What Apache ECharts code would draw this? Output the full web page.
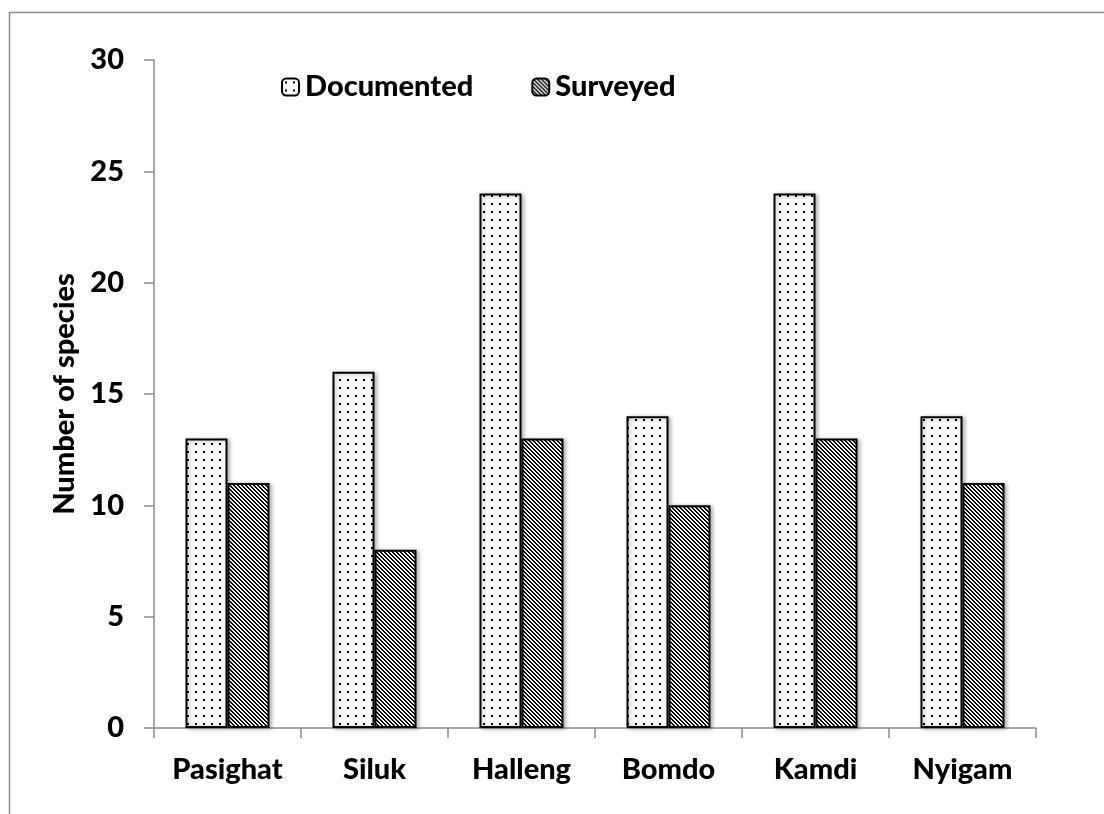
<!DOCTYPE html>
<html>
<head>
<meta charset="utf-8">
<script src="https://cdn.jsdelivr.net/npm/echarts@6/dist/echarts.min.js"></script>
<style>
  html, body { margin: 0; padding: 0; background: #fff; }
  #chart { width: 1104px; height: 814px; }
</style>
</head>
<body>
<div id="chart"></div>
<script>
// Species counts per site
const sites = ['Pasighat', 'Siluk', 'Halleng', 'Bomdo', 'Kamdi', 'Nyigam'];
const documented = [13, 16, 24, 14, 24, 14];
const surveyed = [11, 8, 13, 10, 13, 11];
const yTicks = { min: 0, max: 30, interval: 5 };

const FONT = 'Lato';
const WEIGHT = 900;
const SIZE = 29;
const AXIS_GREY = '#8c8c8c';

// Dotted fill: small black square on an 8px grid
function dotPattern() {
  const c = document.createElement('canvas');
  c.width = 8; c.height = 8;
  const g = c.getContext('2d');
  g.fillStyle = '#fff';
  g.fillRect(0, 0, 8, 8);
  g.fillStyle = '#000';
  g.fillRect(3, 3, 2, 2);
  return c;
}

// Dense downward diagonal hatch (2px on, 2px off)
function hatchPattern() {
  const c = document.createElement('canvas');
  c.width = 4; c.height = 4;
  const g = c.getContext('2d');
  g.fillStyle = '#fff';
  g.fillRect(0, 0, 4, 4);
  g.fillStyle = '#000';
  for (let i = 0; i < 4; i++) {
    g.fillRect(i, i, 1, 1);
    g.fillRect((i + 1) % 4, i, 1, 1);
  }
  return c;
}

const chart = echarts.init(document.getElementById('chart'), null, { renderer: 'canvas' });

const barStyle = (img) => ({
  color: { image: img, repeat: 'repeat' },
  borderColor: '#000',
  borderWidth: 2,
  shadowColor: 'rgba(0,0,0,0.3)',
  shadowBlur: 4,
  shadowOffsetX: 2,
  shadowOffsetY: 1
});

const labelText = { color: '#000', fontFamily: FONT, fontWeight: WEIGHT, fontSize: SIZE };

chart.setOption({
  animation: false,
  backgroundColor: '#fff',
  textStyle: { fontFamily: FONT },
  graphic: [{
    type: 'polyline',
    shape: { points: [[9.5, 814], [9.5, 12.5], [1104, 12.5]] },
    style: { stroke: AXIS_GREY, lineWidth: 1.5, fill: null }
  }],
  legend: {
    left: 276,
    top: 67,
    itemWidth: 17,
    itemHeight: 17,
    itemGap: 58,
    textStyle: Object.assign({ lineHeight: 30, padding: [0, 0, 0, 1] }, labelText),
    data: ['Documented', 'Surveyed']
  },
  grid: { left: 154, right: 68, top: 60, bottom: 86, containLabel: false },
  xAxis: {
    type: 'category',
    data: sites,
    axisLine: { lineStyle: { color: AXIS_GREY, width: 1.5 } },
    axisTick: { show: true, length: 10, inside: false, lineStyle: { color: AXIS_GREY, width: 1.5 } },
    axisLabel: Object.assign({ margin: 27 }, labelText),
    splitLine: { show: false }
  },
  yAxis: {
    type: 'value',
    min: yTicks.min,
    max: yTicks.max,
    interval: yTicks.interval,
    name: 'Number of species',
    nameLocation: 'middle',
    nameGap: 68,
    nameRotate: 90,
    nameTextStyle: labelText,
    axisLine: { show: true, lineStyle: { color: AXIS_GREY, width: 1.5 } },
    axisTick: { show: true, length: 10, lineStyle: { color: AXIS_GREY, width: 1.5 } },
    axisLabel: Object.assign({ margin: 30 }, labelText),
    splitLine: { show: false }
  },
  series: [
    {
      name: 'Documented',
      type: 'bar',
      data: documented,
      barWidth: 42,
      barGap: '0%',
      itemStyle: barStyle(dotPattern())
    },
    {
      name: 'Surveyed',
      type: 'bar',
      data: surveyed,
      barWidth: 42,
      barGap: '0%',
      itemStyle: barStyle(hatchPattern())
    }
  ]
});
</script>
</body>
</html>
